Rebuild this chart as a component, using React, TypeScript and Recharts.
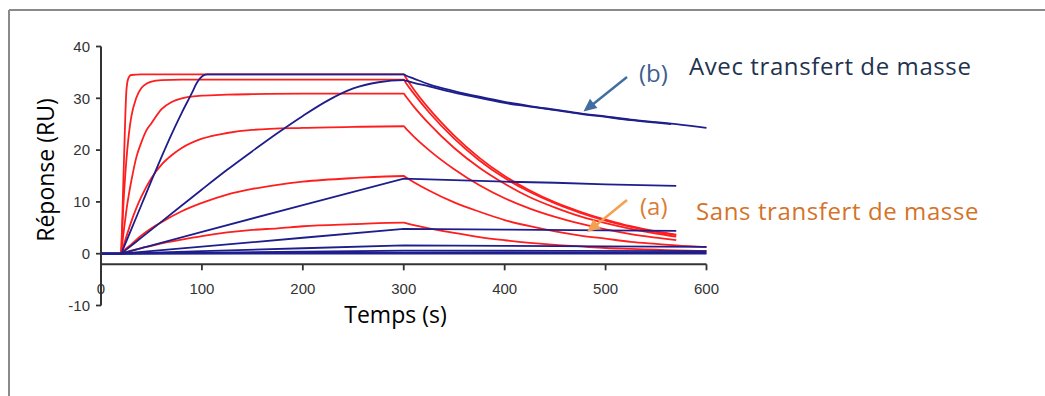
import { LineChart, Line, XAxis, YAxis, ReferenceLine } from "recharts";

type Pt = [number, number];

const W = 1045;
const H = 396;
const PLOT_LEFT = 101;
const PLOT_RIGHT = 706.5;
const PLOT_TOP = 46.5;
const PLOT_BOTTOM = 305.5;
const X_AXIS_H = 30;

const X_TICKS = [0, 100, 200, 300, 400, 500, 600];
const Y_TICKS = [-10, 0, 10, 20, 30, 40];
const Y_MIN = -10;
const Y_MAX = 40;
const X_AXIS_AT = -2.05; // the time axis crosses the response axis here

// (a) sans transfert de masse : [temps (s), réponse (RU)]
const red1: Pt[] = [
  [20, 0], [21, 6], [22, 13], [23, 19.5], [24, 26], [25, 31], [26, 33], [27, 33.8], [28, 34.2], [30, 34.5],
  [40, 34.6], [150, 34.6], [300, 34.6], [302, 34.0], [310, 31.7], [325, 28.0], [350, 22.8], [375, 18.5],
  [400, 15.0], [425, 12.2], [450, 9.9], [475, 8.1], [500, 6.6], [525, 5.3], [550, 4.3], [570, 3.7],
];
const red2: Pt[] = [
  [20, 0], [22, 8.7], [24, 15.1], [26, 20], [28, 23.7], [30, 26.4], [35, 30.1], [40, 32.0], [45, 32.8],
  [50, 33.2], [60, 33.5], [80, 33.6], [300, 33.6], [302, 33.0], [310, 30.9], [325, 27.3], [350, 22.2],
  [375, 18.0], [400, 14.6], [425, 11.9], [450, 9.7], [475, 7.9], [500, 6.4], [525, 5.2], [550, 4.2], [570, 3.6],
];
const red3: Pt[] = [
  [20, 0], [22, 3.5], [24, 6.6], [26, 9.5], [28, 11.9], [30, 14.0], [35, 18.6], [40, 21.5], [45, 23.8],
  [50, 25.2], [60, 27.9], [70, 29.3], [80, 30.0], [100, 30.5], [125, 30.7], [150, 30.8], [200, 30.9],
  [300, 30.9], [302, 30.4], [310, 28.4], [325, 25.1], [350, 20.4], [375, 16.6], [400, 13.5], [425, 10.9],
  [450, 8.9], [475, 7.2], [500, 5.9], [525, 4.8], [550, 3.9], [570, 3.3],
];
const red4: Pt[] = [
  [20, 0], [22, 1.3], [25, 3.2], [30, 6.2], [35, 8.8], [40, 11.0], [50, 14.6], [60, 17.2], [70, 19.0],
  [80, 20.4], [100, 22.2], [125, 23.3], [150, 23.9], [200, 24.3], [250, 24.5], [300, 24.6], [302, 24.2],
  [310, 22.6], [325, 20.0], [350, 16.3], [375, 13.2], [400, 10.7], [425, 8.7], [450, 7.1], [475, 5.8],
  [500, 4.7], [525, 3.8], [550, 3.1], [570, 2.6],
];
const red5: Pt[] = [
  [20, 0], [25, 1.0], [30, 1.8], [40, 3.5], [50, 4.9], [60, 6.1], [80, 8.2], [100, 9.8], [125, 11.4],
  [150, 12.5], [175, 13.3], [200, 13.9], [250, 14.6], [300, 15.0], [302, 14.75], [310, 13.8], [325, 12.2],
  [350, 9.9], [375, 8.1], [400, 6.5], [425, 5.3], [450, 4.3], [475, 3.5], [500, 2.9], [525, 2.3],
  [550, 1.9], [570, 1.6], [600, 1.25],
];
const red6: Pt[] = [
  [20, 0], [30, 0.6], [40, 1.1], [50, 1.5], [60, 2.0], [80, 2.7], [100, 3.4], [125, 4.1], [150, 4.6],
  [175, 4.9], [200, 5.3], [250, 5.7], [300, 6.0], [302, 5.9], [310, 5.5], [325, 4.9], [350, 4.0],
  [375, 3.2], [400, 2.6], [425, 2.1], [450, 1.7], [475, 1.4], [500, 1.1], [525, 0.93], [550, 0.76],
  [570, 0.64], [600, 0.5],
];

// (b) avec transfert de masse
const blue1: Pt[] = [
  [0, 0], [20, 0], [22, 0.94], [30, 4.7], [40, 9.4], [50, 14.1], [60, 18.7], [70, 23.1], [80, 27.2],
  [90, 31.0], [95, 33.0], [100, 34.2], [105, 34.6], [200, 34.6], [300, 34.6], [302, 34.4], [310, 33.8],
  [325, 32.7], [350, 31.4], [375, 30.3], [400, 29.3], [425, 28.5], [450, 27.8], [475, 27.1], [500, 26.5],
  [525, 25.9], [550, 25.4], [570, 25.0], [600, 24.3],
];
const blue2: Pt[] = [
  [0, 0], [20, 0], [25, 0.78], [40, 3.1], [60, 6.2], [80, 9.3], [100, 12.4], [125, 16.2], [150, 19.8],
  [175, 23.3], [200, 26.6], [225, 29.6], [250, 31.9], [275, 33.1], [300, 33.5], [302, 33.4], [310, 33.0],
  [325, 32.3], [350, 31.1], [375, 30.1], [400, 29.1], [425, 28.4], [450, 27.7], [475, 27.0], [500, 26.4],
  [525, 25.8], [550, 25.3], [565, 25.0],
];
const blue3: Pt[] = [[0, 0], [20, 0], [100, 4.2], [200, 9.4], [300, 14.5], [350, 14.2], [400, 13.9], [450, 13.7], [500, 13.4], [570, 13.1]];
const blue4: Pt[] = [[0, 0], [20, 0], [100, 1.37], [200, 3.08], [300, 4.8], [400, 4.65], [500, 4.5], [570, 4.4]];
const blue5: Pt[] = [[0, 0], [20, 0], [100, 0.5], [200, 1.05], [300, 1.6], [400, 1.5], [500, 1.4], [600, 1.3]];
const blue6: Pt[] = [[0, 0], [20, 0], [300, 0.6], [450, 0.55], [600, 0.5]];
const blue7: Pt[] = [[0, 0], [20, 0], [300, 0.2], [600, 0.15]];
const blue8: Pt[] = [[0, 0], [600, 0]];

const SMOOTH_RED = [red1, red2, red3, red4, red5, red6];
const SMOOTH_BLUE = [blue1, blue2];
const STRAIGHT_BLUE = [blue3, blue4, blue5, blue6, blue7, blue8];

const RED = "#ff1e1e";
const NAVY = "#1e1e8c";
const AXIS = "#333";
const TICK_FONT = "'Liberation Sans', Arial, sans-serif";
const LABEL_FONT = "'Open Sans', 'Noto Sans', sans-serif";

const rows = (pts: Pt[]) => pts.map(([t, y]) => ({ t, y }));

// x ticks are drawn lifted up to the axis crossing at X_AXIS_AT
const AXIS_LIFT = ((X_AXIS_AT - Y_MIN) / (Y_MAX - Y_MIN)) * (PLOT_BOTTOM - PLOT_TOP);

function XTick(props: any) {
  const { x, y, payload } = props;
  const ay = y - AXIS_LIFT;
  return (
    <g>
      <line x1={x} x2={x} y1={ay} y2={ay + 6} stroke={AXIS} strokeWidth={1.8} />
      <text x={x} y={ay + 30} textAnchor="middle" fontSize={15} fill={AXIS} fontFamily={TICK_FONT}>
        {payload.value}
      </text>
    </g>
  );
}

function arrowHead(x1: number, y1: number, x2: number, y2: number, len: number, half: number) {
  const dx = x2 - x1;
  const dy = y2 - y1;
  const d = Math.hypot(dx, dy);
  const ux = dx / d;
  const uy = dy / d;
  const bx = x2 - ux * len;
  const by = y2 - uy * len;
  return `${x2},${y2} ${bx - uy * half},${by + ux * half} ${bx + uy * half},${by - ux * half}`;
}

function Overlay() {
  return (
    <svg width={W} height={H} style={{ position: "absolute", left: 0, top: 0, pointerEvents: "none" }}>
      <line x1={9} y1={10} x2={W} y2={10} stroke="#8a8a8a" strokeWidth={2} />
      <line x1={9} y1={10} x2={9} y2={H} stroke="#8a8a8a" strokeWidth={2} />

      <text transform="translate(53.5,170) rotate(-90)" textAnchor="middle" fontSize={23} fill="#000" fontFamily={LABEL_FONT}>
        Réponse (RU)
      </text>
      <text x={395.5} y={323} textAnchor="middle" fontSize={23} fill="#000" fontFamily={LABEL_FONT}>
        Temps (s)
      </text>

      <text x={639} y={82} fontSize={24} fill="#3d5f8f" fontFamily={LABEL_FONT}>(b)</text>
      <text x={689} y={75} fontSize={24} letterSpacing={0.6} fill="#1f3350" fontFamily={LABEL_FONT}>
        Avec transfert de masse
      </text>
      <line x1={627} y1={77} x2={592} y2={105} stroke="#416ea0" strokeWidth={2.5} />
      <polygon points={arrowHead(627, 77, 583.5, 111.5, 13, 6)} fill="#416ea0" />

      <text x={640} y={215} fontSize={24} fill="#dc7d35" fontFamily={LABEL_FONT}>(a)</text>
      <text x={696} y={220} fontSize={24} letterSpacing={0.6} fill="#d4732a" fontFamily={LABEL_FONT}>
        Sans transfert de masse
      </text>
      <line x1={627} y1={200} x2={595} y2={226} stroke="#f5a050" strokeWidth={2.5} />
      <polygon points={arrowHead(627, 200, 587, 232, 13, 6)} fill="#f5a050" />
    </svg>
  );
}

export default function App() {
  return (
    <div style={{ position: "fixed", left: 0, top: 0, width: W, height: H, background: "#fff" }}>
      <LineChart
        width={W}
        height={H}
        margin={{ top: PLOT_TOP, right: W - PLOT_RIGHT, bottom: H - PLOT_BOTTOM - X_AXIS_H, left: 0 }}
      >
        <XAxis
          type="number"
          dataKey="t"
          domain={[0, 600]}
          ticks={X_TICKS}
          height={X_AXIS_H}
          axisLine={false}
          tickLine={false}
          tickSize={0}
          tickMargin={0}
          tick={<XTick />}
          allowDuplicatedCategory={false}
        />
        <YAxis
          type="number"
          domain={[Y_MIN, Y_MAX]}
          ticks={Y_TICKS}
          width={PLOT_LEFT}
          axisLine={{ stroke: AXIS, strokeWidth: 2 }}
          tickLine={{ stroke: AXIS, strokeWidth: 1.8 }}
          tickSize={5}
          tickMargin={6}
          tick={{ fontSize: 15, fill: AXIS, fontFamily: TICK_FONT }}
          allowDataOverflow
        />
        <ReferenceLine y={X_AXIS_AT} stroke={AXIS} strokeWidth={2} ifOverflow="extendDomain" />
        {SMOOTH_RED.map((s, i) => (
          <Line key={`r${i}`} data={rows(s)} dataKey="y" type="monotone" stroke={RED} strokeWidth={1.8} dot={false} isAnimationActive={false} />
        ))}
        {SMOOTH_BLUE.map((s, i) => (
          <Line key={`b${i}`} data={rows(s)} dataKey="y" type="monotone" stroke={NAVY} strokeWidth={1.8} dot={false} isAnimationActive={false} />
        ))}
        {STRAIGHT_BLUE.map((s, i) => (
          <Line key={`bl${i}`} data={rows(s)} dataKey="y" type="linear" stroke={NAVY} strokeWidth={1.8} dot={false} isAnimationActive={false} />
        ))}
      </LineChart>
      <Overlay />
    </div>
  );
}
